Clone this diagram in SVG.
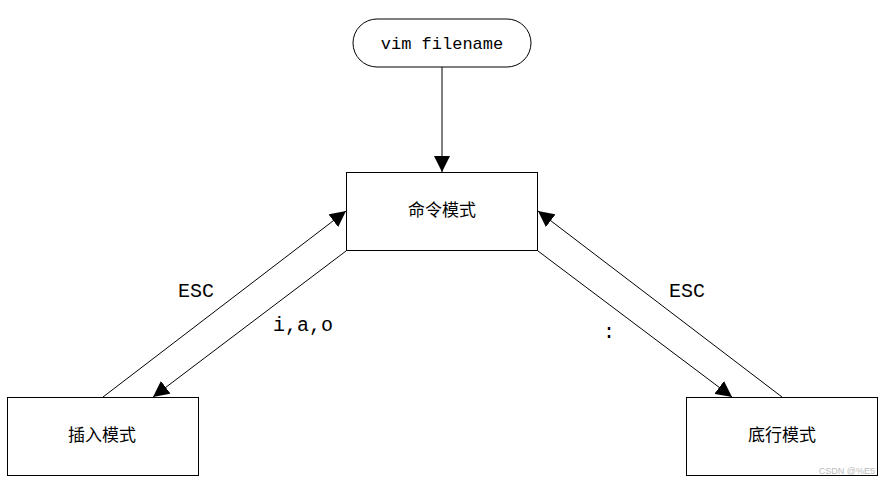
<svg xmlns="http://www.w3.org/2000/svg" width="887" height="484" viewBox="0 0 887 484">
<style>
.box{fill:#fff;stroke:#000;stroke-width:1}
.cn{font-family:"Noto Sans CJK SC","Liberation Sans",sans-serif;font-size:17px;fill:#000;text-anchor:middle}
.mono{font-family:"Liberation Mono",monospace;font-size:17px;fill:#000;text-anchor:middle}
.lbl{font-family:"Liberation Mono",monospace;font-size:20px;fill:#000}
.edge{stroke:#000;stroke-width:1;fill:none;marker-end:url(#ah)}
</style>
<defs>
<marker id="ah" viewBox="0 0 10 10" refX="10" refY="5" markerWidth="16" markerHeight="16" markerUnits="userSpaceOnUse" orient="auto">
<path d="M0,0 L10,5 L0,10 z" fill="#000"/>
</marker>
</defs>
<rect width="887" height="484" fill="#fff"/>
<g id="start">
<rect class="box" x="353" y="19" width="178" height="48" rx="24" ry="24"/>
<text class="mono" x="442" y="49">vim filename</text>
</g>
<g id="cmd">
<rect class="box" x="346.5" y="172.5" width="191" height="78"/>
<text class="cn" x="442" y="216">命令模式</text>
</g>
<g id="insert">
<rect class="box" x="7.5" y="397.5" width="191" height="78"/>
<text class="cn" x="102" y="441">插入模式</text>
</g>
<g id="lastline">
<rect class="box" x="686.5" y="397.5" width="191" height="78"/>
<text class="cn" x="782" y="441">底行模式</text>
</g>
<g id="connectors">
<line class="edge" x1="442" y1="67" x2="442" y2="172"/>
<line class="edge" x1="103" y1="397" x2="346" y2="211"/>
<line class="edge" x1="346" y1="251" x2="153" y2="397"/>
<line class="edge" x1="782" y1="397" x2="538" y2="211"/>
<line class="edge" x1="538" y1="251" x2="732" y2="397"/>
<text class="lbl" x="178" y="297">ESC</text>
<text class="lbl" x="273" y="331">i,a,o</text>
<text class="lbl" x="603" y="338">:</text>
<text class="lbl" x="669" y="297">ESC</text>
</g>
<text x="875" y="474" font-family="Liberation Sans,sans-serif" font-size="9" fill="#bbb" text-anchor="end">CSDN @%E5</text>
</svg>
